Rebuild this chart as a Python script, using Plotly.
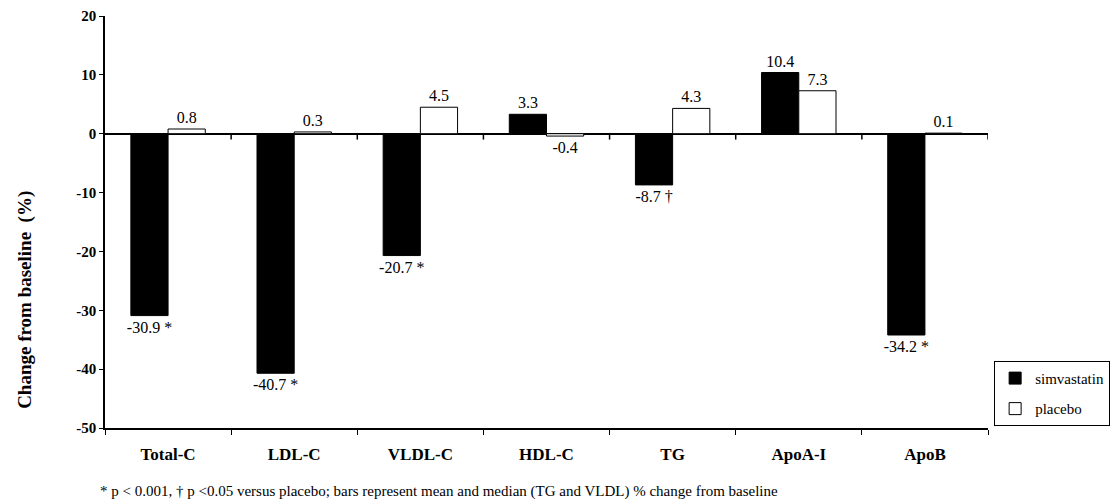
import plotly.graph_objects as go

# Lipid parameters and % change from baseline
categories = ["Total-C", "LDL-C", "VLDL-C", "HDL-C", "TG", "ApoA-I", "ApoB"]
simvastatin = [-30.9, -40.7, -20.7, 3.3, -8.7, 10.4, -34.2]
placebo = [0.8, 0.3, 4.5, -0.4, 4.3, 7.3, 0.1]
# significance markers appended to the simvastatin labels
sim_marks = [" *", " *", " *", "", " \u2020", "", " *"]
y_ticks = [20, 10, 0, -10, -20, -30, -40, -50]
y_tick_text = ["20", "10", "0", "-10", "-20", "-30", "-40", "-50"]
y_min, y_max = -50, 20

serif = "Liberation Serif, Times New Roman, serif"

sim_text = [f"{v}{m}" for v, m in zip(simvastatin, sim_marks)]
pla_text = [f"{v}" for v in placebo]

n = len(categories)
# category boundaries, marked by short ticks hanging from the zero line
boundaries = [i + 0.5 for i in range(n)]
zero_tick_len = 1.0  # tick length in axis units

fig = go.Figure()
fig.add_trace(go.Bar(
    name="simvastatin", x=categories, y=simvastatin, legendgroup="sim",
    marker=dict(color="black", line=dict(color="black", width=1)),
    text=sim_text, textposition="outside", cliponaxis=False,
    constraintext="none",
    textfont=dict(family=serif, size=16, color="black"),
))
fig.add_trace(go.Bar(
    name="placebo", x=categories, y=placebo, legendgroup="pla",
    marker=dict(color="white", line=dict(color="black", width=1)),
    text=pla_text, textposition="outside", cliponaxis=False,
    constraintext="none",
    textfont=dict(family=serif, size=16, color="black"),
))
# zero-line ticks drawn as one-sided error bars
fig.add_trace(go.Scatter(
    x=boundaries, y=[0] * n, xaxis="x2", mode="markers",
    marker=dict(size=1, color="rgba(0,0,0,0)"),
    error_y=dict(type="data", symmetric=False, array=[0] * n,
                 arrayminus=[zero_tick_len] * n, width=0,
                 thickness=1.5, color="black"),
    showlegend=False, hoverinfo="skip",
))

fig.update_layout(
    width=1112, height=504,
    margin=dict(l=105, r=124, t=16, b=76, autoexpand=False),
    paper_bgcolor="white", plot_bgcolor="white",
    barmode="group", bargap=0.41, bargroupgap=0,
    font=dict(family=serif, color="black"),
    showlegend=True,
    legend=dict(
        xref="container", yref="container",
        x=0.894, y=0.284, xanchor="left", yanchor="top",
        bordercolor="black", borderwidth=1, bgcolor="white",
        font=dict(family=serif, size=15, color="black"),
        traceorder="grouped", tracegroupgap=8, itemwidth=30,
    ),
    xaxis=dict(
        type="category", categoryarray=categories, range=[-0.5, n - 0.5],
        showline=True, linecolor="black", linewidth=1.5,
        ticks="outside", tickson="boundaries", ticklen=5, tickcolor="black",
        ticklabelstandoff=10, automargin=False,
        tickfont=dict(family=serif, size=17, color="black", weight="bold"),
        showgrid=False, zeroline=False,
    ),
    xaxis2=dict(
        type="linear", range=[-0.5, n - 0.5], overlaying="x", anchor="y",
        visible=False, showgrid=False, zeroline=False,
    ),
    yaxis=dict(
        range=[y_min, y_max], tickvals=y_ticks, ticktext=y_tick_text,
        showline=True, linecolor="black", linewidth=1.5,
        ticks="outside", ticklen=4, tickcolor="black", automargin=False,
        tickfont=dict(family=serif, size=15, color="black", weight="bold"),
        showgrid=False,
        zeroline=True, zerolinecolor="black", zerolinewidth=1.5,
    ),
)

# vertical axis title
fig.add_annotation(
    xref="paper", yref="paper", x=-0.0906, y=0.311,
    xanchor="center", yanchor="middle", showarrow=False, textangle=-90,
    text="<b>Change from baseline  (%)</b>",
    font=dict(family=serif, size=19, color="black"),
)

# footnote
fig.add_annotation(
    xref="paper", yref="paper", x=-0.008, y=-0.153,
    xanchor="left", yanchor="middle", showarrow=False,
    text="* p &lt; 0.001, \u2020 p &lt;0.05 versus placebo; bars represent mean and median (TG and VLDL) % change from baseline",
    font=dict(family=serif, size=15, color="black"),
)

fig.write_html("out.html")
